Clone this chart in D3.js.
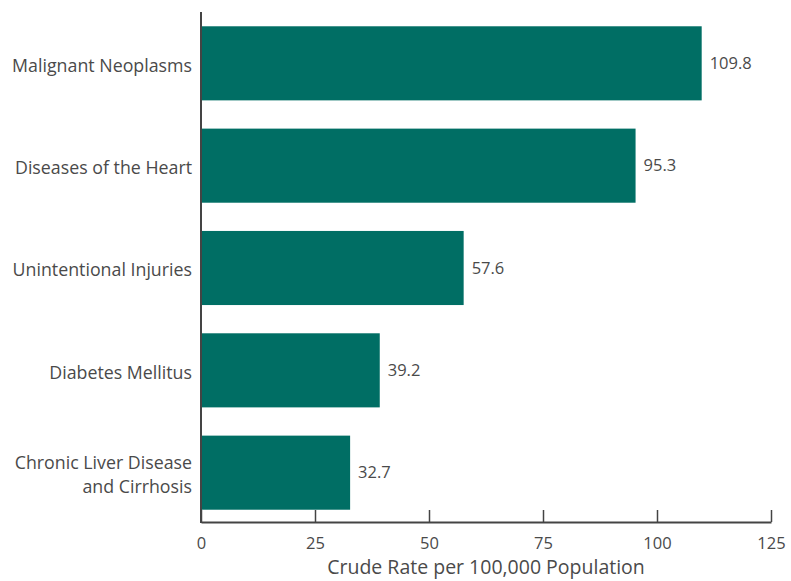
<!DOCTYPE html>
<html><head><meta charset="utf-8">
<script src="https://cdn.jsdelivr.net/npm/d3@7"></script>
<style>body{margin:0;background:#fff}svg{display:block}text{font-family:"Open Sans",sans-serif;fill:#4a4a4a}</style>
</head><body><svg id="c" width="791" height="581"></svg>
<script>
const categories = ["Malignant Neoplasms", "Diseases of the Heart", "Unintentional Injuries", "Diabetes Mellitus", "Chronic Liver Disease\nand Cirrhosis"];
const values = [109.8, 95.3, 57.6, 39.2, 32.7];
const xTicks = [0, 25, 50, 75, 100, 125];
const xTitle = "Crude Rate per 100,000 Population";

const svg = d3.select("#c");
const x = d3.scaleLinear().domain([0, 125]).range([201, 771]);
const y = d3.scaleBand().domain(categories).range([14, 522]).paddingInner(0.276).paddingOuter(0.12);

svg.selectAll("rect.bar").data(values).join("rect").attr("class","bar")
  .attr("x", x(0)).attr("y", (d,i)=>y(categories[i]))
  .attr("width", d=>x(d)-x(0)).attr("height", y.bandwidth())
  .attr("fill", "#006e64");

svg.selectAll("text.val").data(values).join("text").attr("class","val")
  .attr("x", d=>x(d)+8).attr("y", (d,i)=>y(categories[i])+y.bandwidth()/2)
  .attr("dy","0.35em").attr("font-size", 16.5).text(d=>d.toFixed(1));

// category labels
categories.forEach(c=>{
  const lines = c.split("\n");
  const cy = y(c)+y.bandwidth()/2 + 2;
  const t = svg.append("text").attr("text-anchor","end").attr("font-size",17.8);
  lines.forEach((l,i)=>{
    t.append("tspan").attr("x",192).attr("y", cy + (i-(lines.length-1)/2)*24).attr("dy","0.35em").text(l);
  });
});

// x axis
const xAxis = d3.axisBottom(x).tickValues(xTicks).tickSizeInner(-12).tickSizeOuter(0).tickPadding(15).tickFormat(d3.format("d"));
const gx = svg.append("g").attr("transform","translate(0,522)").call(xAxis);
gx.select(".domain").attr("stroke","#444").attr("stroke-width",2);
gx.selectAll(".tick line").attr("stroke","#444").attr("stroke-width",1.5);
gx.selectAll(".tick text").attr("font-size",16.5).attr("fill","#4a4a4a").style("font-family","'Open Sans',sans-serif");

// y axis line
svg.append("line").attr("x1",x(0)).attr("x2",x(0)).attr("y1",12).attr("y2",523).attr("stroke","#444").attr("stroke-width",2);

svg.append("text").attr("x",486).attr("y",574).attr("text-anchor","middle").attr("font-size",19.5).text(xTitle);
</script></body></html>
